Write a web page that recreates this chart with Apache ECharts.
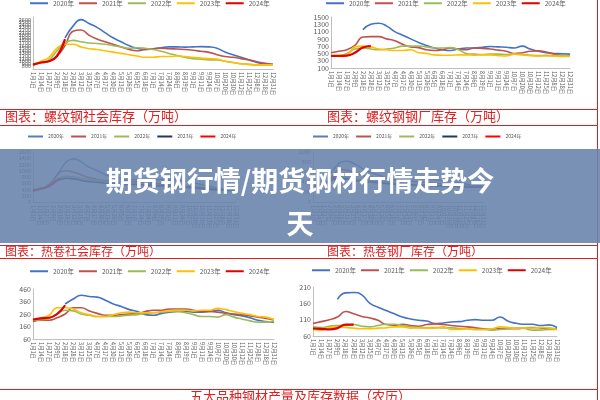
<!DOCTYPE html>
<html><head><meta charset="utf-8">
<script src="https://cdn.jsdelivr.net/npm/echarts@6/dist/echarts.min.js"></script>
<style>html,body{margin:0;padding:0;background:#fff}#c{width:600px;height:400px}</style>
</head><body><div id="c"></div>
<script>
const categories=['1月1日','1月14日','1月27日','2月9日','2月18日','2月28日','3月12日','3月25日','4月7日','4月17日','4月30日','5月13日','5月26日','6月5日','6月18日','7月1日','7月14日','7月24日','8月6日','8月19日','9月1日','9月11日','9月24日','10月7日','10月20日','10月30日','11月12日','11月25日','12月8日','12月18日','12月31日'];
const years=['2020年','2021年','2022年','2023年','2024年'];
const n=null;
// 螺纹钢社会库存
const rebarSocial2020=[n,n,n,n,1900,2350,2600,2450,2300,2100,1900,1750,1600,1500,1450,1480,1520,1550,1550,1540,1550,1560,1550,1500,1350,1250,1150,1050,950,900,880];
const rebarSocial2021=[850,950,1000,1200,1600,2150,2200,2000,1850,1750,1650,1550,1450,1400,1450,1480,1500,1480,1470,1450,1420,1380,1340,1250,1180,1150,1100,1050,980,920,880];
const rebarSocial2022=[900,950,1050,1400,1700,1800,1750,1700,1680,1650,1600,1550,1500,1520,1500,1450,1380,1300,1220,1150,1100,1080,1050,1050,1000,950,900,880,860,860,870];
const rebarSocial2023=[850,1000,1150,1500,1650,1650,1550,1480,1450,1400,1350,1300,1250,1200,1150,1150,1180,1180,1200,1180,1150,1120,1100,1080,1000,950,900,870,860,860,870];
const rebarSocial2024=[870,950,1000,1200,1850];
// 螺纹钢钢厂库存
const rebarMill2020=[n,n,n,n,1150,1300,1330,1250,1100,1000,900,800,720,650,600,580,620,650,650,670,690,680,670,650,700,620,560,520,500,490,480];
const rebarMill2021=[520,560,600,720,950,960,960,900,850,750,680,660,600,580,600,650,620,600,650,640,620,590,560,500,520,560,570,540,480,450,430];
const rebarMill2022=[450,450,500,620,650,620,600,620,650,700,700,700,680,650,650,660,600,500,480,470,480,480,470,480,470,450,440,450,440,440,430];
const rebarMill2023=[430,450,460,680,700,680,620,600,580,580,600,520,500,460,450,450,460,460,450,460,460,440,430,480,460,440,430,430,430,420,420];
const rebarMill2024=[430,430,440,520,660,700];
// 热卷社会库存
const hrcSocial2020=[n,n,n,700,1000,1300,1380,1300,1150,1050,950,850,800,750,700,720,700,680,700,720,700,720,680,650,600,550,500,450,420,400,380];
const hrcSocial2021=[350,420,500,700,950,1000,950,880,800,750,700,680,660,640,640,650,640,620,600,580,560,540,520,500,480,460,440,420,400,380,360];
const hrcSocial2022=[380,420,480,650,780,820,800,760,730,700,680,660,640,620,600,580,560,540,520,500,480,470,460,450,440,420,400,390,380,370,360];
const hrcSocial2023=[360,420,480,620,720,760,740,700,660,640,620,600,580,570,560,560,550,540,530,520,510,500,490,470,450,430,410,390,380,370,360];
const hrcSocial2024=[370,420,470,600,760];
// 热卷钢厂库存
const hrcMill2020=[n,n,n,550,700,800,820,780,720,650,600,560,520,480,460,450,460,470,480,470,460,450,440,430,420,400,380,360,340,330,320];
const hrcMill2021=[300,320,350,450,600,650,640,600,560,520,500,480,460,450,440,440,430,420,410,400,390,380,370,360,350,340,330,320,310,300,300];
const hrcMill2022=[320,340,360,420,480,500,490,470,450,440,430,420,410,400,390,380,370,360,350,350,340,340,330,330,320,320,310,310,300,300,300];
const hrcMill2023=[300,320,350,420,460,470,460,440,420,410,400,390,380,370,360,350,350,340,340,330,330,320,320,320,310,310,300,300,300,300,300];
const hrcMill2024=[300,330,360,440,520];
// 下方左图
const blSocial2020=[n,n,n,n,340,380,410,400,395,370,340,320,295,280,255,250,265,275,280,280,275,275,280,290,270,255,245,230,210,200,195];
const blSocial2021=[200,210,210,230,260,310,310,285,265,250,250,255,260,265,280,290,290,300,300,300,290,280,280,275,265,260,255,245,235,225,215];
const blSocial2022=[210,215,225,260,290,285,260,250,240,240,240,245,250,255,265,270,275,280,280,270,255,240,240,235,255,235,220,205,195,195,205];
const blSocial2023=[210,230,250,310,310,300,270,255,240,240,255,270,275,270,270,270,280,285,290,290,285,290,290,305,295,280,265,255,240,235,215];
const blSocial2024=[215,225,230,260,330];
// 下方右图
const brMill2020=[n,n,n,172,192,193,186,160,148,138,128,118,112,108,106,98,100,103,104,108,110,108,108,118,105,99,96,96,92,94,86];
const brMill2021=[98,104,110,118,135,128,120,115,108,95,93,96,92,90,95,97,95,92,90,88,85,82,80,83,82,82,85,86,85,83,82];
const brMill2022=[88,86,90,92,92,95,90,88,92,96,96,92,88,86,85,86,85,85,83,82,80,80,78,80,82,85,83,78,78,80,80];
const brMill2023=[80,78,86,88,86,84,82,82,84,85,88,88,84,85,84,84,88,80,80,82,80,80,82,88,86,84,85,84,86,85,80];
const brMill2024=[83,82,80,84,95,95];

const colors=['#4472c4','#c0504d','#9bbb59','#ffc000','#e00000'];
const midColors=['#4f81bd','#c0504d','#9bbb59','#1f3864','#ff0000'];
const charts=[
 {d:[rebarSocial2020,rebarSocial2021,rebarSocial2022,rebarSocial2023,rebarSocial2024],g:{left:33,width:240,top:17,height:52},min:700,max:2700,iv:100,c:colors,lg:{left:30,top:0},iw:18,gap:5,fs:6.5},
 {d:[rebarMill2020,rebarMill2021,rebarMill2022,rebarMill2023,rebarMill2024],g:{left:331,width:239,top:17,height:51},min:100,max:1500,iv:200,c:colors,lg:{left:326,top:0},iw:18,gap:5,fs:6.5},
 {d:[hrcSocial2020,hrcSocial2021,hrcSocial2022,hrcSocial2023,hrcSocial2024],g:{left:33,width:203,top:152,height:50},min:0,max:1600,iv:200,c:midColors,lg:{left:28,top:134},iw:15,gap:7,fs:5},
 {d:[hrcMill2020,hrcMill2021,hrcMill2022,hrcMill2023,hrcMill2024],g:{left:313,width:170,top:152,height:50},min:0,max:1000,iv:200,c:midColors,lg:{left:313,top:134},iw:15,gap:7,fs:5},
 {d:[blSocial2020,blSocial2021,blSocial2022,blSocial2023,blSocial2024],g:{left:33,width:241,top:289,height:50},min:60,max:460,iv:100,c:colors,lg:{left:30,top:268},iw:18,gap:5,fs:6.5},
 {d:[brMill2020,brMill2021,brMill2022,brMill2023,brMill2024],g:{left:313,width:244,top:287,height:49},min:60,max:210,iv:50,c:colors,lg:{left:312,top:267},iw:18,gap:5,fs:6.5}
];
const grid=[],xAxis=[],yAxis=[],series=[],legend=[];
charts.forEach((ch,i)=>{
 grid.push(ch.g);
 xAxis.push({type:'category',gridIndex:i,data:categories,boundaryGap:false,axisTick:{show:false},axisLine:{lineStyle:{color:'#bfbfbf'}},
   axisLabel:{interval:0,rotate:-90,fontSize:5.5,color:'#595959',margin:3}});
 yAxis.push({type:'value',gridIndex:i,min:ch.min,max:ch.max,interval:ch.iv,splitLine:{show:false},axisLine:{show:true,lineStyle:{color:'#bfbfbf'}},
   axisLabel:{formatter:v=>String(v),fontSize:(i===0||i>=2&&i<4)?5.5:7,color:'#595959',margin:2}});
 legend.push({top:ch.lg.top,left:ch.lg.left,width:600-ch.lg.left,orient:'horizontal',itemWidth:ch.iw,itemHeight:2,itemGap:ch.gap,padding:0,icon:'rect',textStyle:{fontSize:ch.fs,color:'#595959'},
   data:years.map((y,k)=>({name:y,itemStyle:{color:ch.c[k]}})),selectedMode:false});
 ch.d.forEach((arr,k)=>series.push({type:'line',name:years[k],xAxisIndex:i,yAxisIndex:i,data:arr,smooth:true,showSymbol:false,
   lineStyle:{width:k===4?2.2:1.6,color:ch.c[k]},itemStyle:{color:ch.c[k]},z:k===4?5:3}));
});
const red='#e02020';
const F='Noto Sans CJK SC';
const graphic=[
 {type:'rect',shape:{x:0,y:109,width:598,height:1},style:{fill:red}},
 {type:'rect',shape:{x:0,y:125,width:598,height:1},style:{fill:red}},
 {type:'rect',shape:{x:0,y:245,width:598,height:1},style:{fill:red}},
 {type:'rect',shape:{x:0,y:258,width:598,height:1},style:{fill:red}},
 {type:'rect',shape:{x:0,y:389,width:598,height:1},style:{fill:red}},
 {type:'rect',shape:{x:597,y:0,width:1,height:400},style:{fill:red}},
 {type:'text',x:5,y:110,style:{text:'图表：螺纹钢社会库存（万吨）',fontSize:13,fill:red,fontFamily:F}},
 {type:'text',x:327,y:110,style:{text:'图表：螺纹钢钢厂库存（万吨）',fontSize:13,fill:red,fontFamily:F}},
 {type:'text',x:5,y:245,style:{text:'图表：热卷社会库存（万吨）',fontSize:12,fill:red,fontFamily:F}},
 {type:'text',x:327,y:245,style:{text:'图表：热卷钢厂库存（万吨）',fontSize:12,fill:red,fontFamily:F}},
 {type:'text',x:190,y:390,style:{text:'五大品种钢材产量及库存数据（农历）',fontSize:13,fill:red,fontFamily:F}},
 {type:'rect',shape:{x:0,y:149,width:600,height:94},style:{fill:'rgba(104,130,172,0.88)'},z:100},
 {type:'text',x:300,y:181,z:101,style:{text:'期货钢行情/期货钢材行情走势今',fontSize:27,fontWeight:'bold',fill:'#fff',align:'center',verticalAlign:'middle',fontFamily:F}},
 {type:'text',x:300,y:224,z:101,style:{text:'天',fontSize:27,fontWeight:'bold',fill:'#fff',align:'center',verticalAlign:'middle',fontFamily:F}}
];
const chart=echarts.init(document.getElementById('c'),null,{renderer:'canvas'});
chart.setOption({animation:false,textStyle:{fontFamily:F},grid,xAxis,yAxis,series,legend,graphic});
</script></body></html>
